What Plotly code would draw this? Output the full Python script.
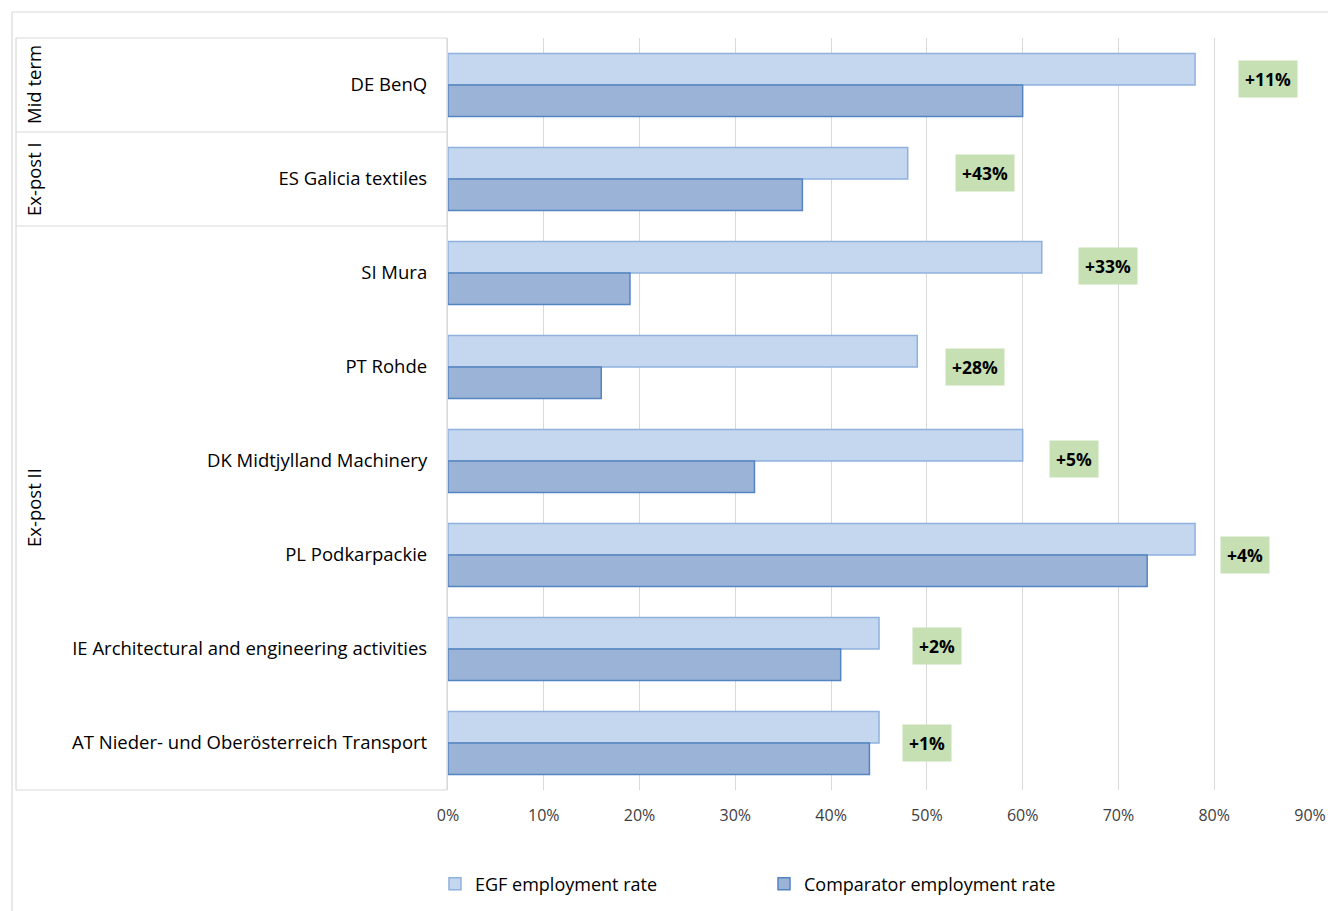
import plotly.graph_objects as go

# EGF cases, top to bottom
categories = [
    "DE BenQ",
    "ES Galicia textiles",
    "SI Mura",
    "PT Rohde",
    "DK Midtjylland Machinery",
    "PL Podkarpackie",
    "IE Architectural and engineering activities",
    "AT Nieder- und Oberösterreich Transport",
]
egf_rate = [0.78, 0.48, 0.62, 0.49, 0.60, 0.78, 0.45, 0.45]
comparator_rate = [0.60, 0.37, 0.19, 0.16, 0.32, 0.73, 0.41, 0.44]
net_effect = [11, 43, 33, 28, 5, 4, 2, 1]

# evaluation phases and how many cases each covers
groups = ["Mid term", "Ex-post I", "Ex-post II"]
group_sizes = [1, 1, 6]

tick_vals = [i / 10 for i in range(10)]
tick_text = [f"{i * 10}%" for i in range(10)]

FONT = "'Open Sans', Lato, sans-serif"
W, H = 1328, 911
L, R, T, B = 448, 18, 38, 121
PW, PH = W - L - R, H - T - B


def px_x(px):
    return (px - L) / PW


def px_y(py):
    return (H - B - py) / PH


fig = go.Figure()
fig.add_trace(go.Bar(
    y=categories, x=egf_rate, orientation="h", name="EGF employment rate",
    marker=dict(color="#c5d7ee", line=dict(color="#8fb1de", width=1.5)),
))
fig.add_trace(go.Bar(
    y=categories, x=comparator_rate, orientation="h", name="Comparator employment rate",
    marker=dict(color="#9ab3d7", line=dict(color="#5585c0", width=1.5)),
))

# green net-effect labels placed by hand to the right of each pair of bars
label_gap = [0.076, 0.081, 0.069, 0.060, 0.054, 0.052, 0.061, 0.050]
label_rise = [6, 6, 7, 0, 2, 0, 3, 0]
for i, (e, eff) in enumerate(zip(egf_rate, net_effect)):
    fig.add_annotation(
        x=e + label_gap[i], y=i, xref="x", yref="y",
        text=f"<b>+{eff}%</b>", showarrow=False,
        font=dict(family=FONT, size=17.5, color="#000000"),
        bgcolor="#c6e0b4", borderpad=6, yshift=label_rise[i],
    )

# frame around the category-label table
line_col = "#d9d9d9"
x_left = px_x(16)
x_right = px_x(447)
for (xa, xb, ya, yb) in [(x_left, x_right, 1, 1), (x_left, x_right, 0, 0),
                         (x_left, x_left, 0, 1), (x_right, x_right, 0, 1)]:
    fig.add_shape(type="line", xref="paper", yref="paper", x0=xa, x1=xb,
                  y0=ya, y1=yb, line=dict(color=line_col, width=1.2))

start = 0
for g, n in zip(groups, group_sizes):
    end = start + n
    if end < len(categories):
        fig.add_shape(type="line", xref="paper", yref="y", x0=x_left, x1=x_right,
                      y0=end - 0.5, y1=end - 0.5, line=dict(color=line_col, width=1.2))
    fig.add_annotation(
        x=px_x(33), y=(start + end - 1) / 2, xref="paper", yref="y",
        xanchor="center", yanchor="middle",
        text=g, textangle=-90, showarrow=False,
        font=dict(family=FONT, size=18.5, color="#000000"),
    )
    start = end

# outer chart border
fig.add_shape(type="line", xref="paper", yref="paper", x0=px_x(12), x1=px_x(1340),
              y0=px_y(12), y1=px_y(12), line=dict(color=line_col, width=1.2))
fig.add_shape(type="line", xref="paper", yref="paper", x0=px_x(12), x1=px_x(12),
              y0=px_y(12), y1=px_y(920), line=dict(color=line_col, width=1.2))

fig.update_layout(
    width=W, height=H,
    margin=dict(l=L, r=R, t=T, b=B, autoexpand=False),
    plot_bgcolor="white", paper_bgcolor="white",
    barmode="group", bargap=0.33, bargroupgap=0,
    font=dict(family=FONT, size=16, color="#000000"),
    showlegend=True,
    legend=dict(
        orientation="h", x=px_x(435), xanchor="left", y=px_y(884), yanchor="middle",
        font=dict(family=FONT, size=18, color="#000000"),
        entrywidth=284, entrywidthmode="pixels",
        itemwidth=30, traceorder="normal",
    ),
)
fig.update_xaxes(
    range=[0, 0.9], tickvals=tick_vals, ticktext=tick_text, automargin=False,
    showgrid=True, gridcolor="#d9d9d9", gridwidth=1.2,
    zeroline=False, showline=False,
    tickfont=dict(family=FONT, size=16, color="#404040"),
    ticks="", ticklabelstandoff=14,
)
fig.update_yaxes(
    range=[len(categories) - 0.5, -0.5], showgrid=False, zeroline=False,
    automargin=False,
    showline=True, linecolor="#d9d9d9", linewidth=1.2,
    ticks="", ticklabelstandoff=16,
    tickfont=dict(family=FONT, size=18.5, color="#000000"),
)

fig.write_html("out.html")
